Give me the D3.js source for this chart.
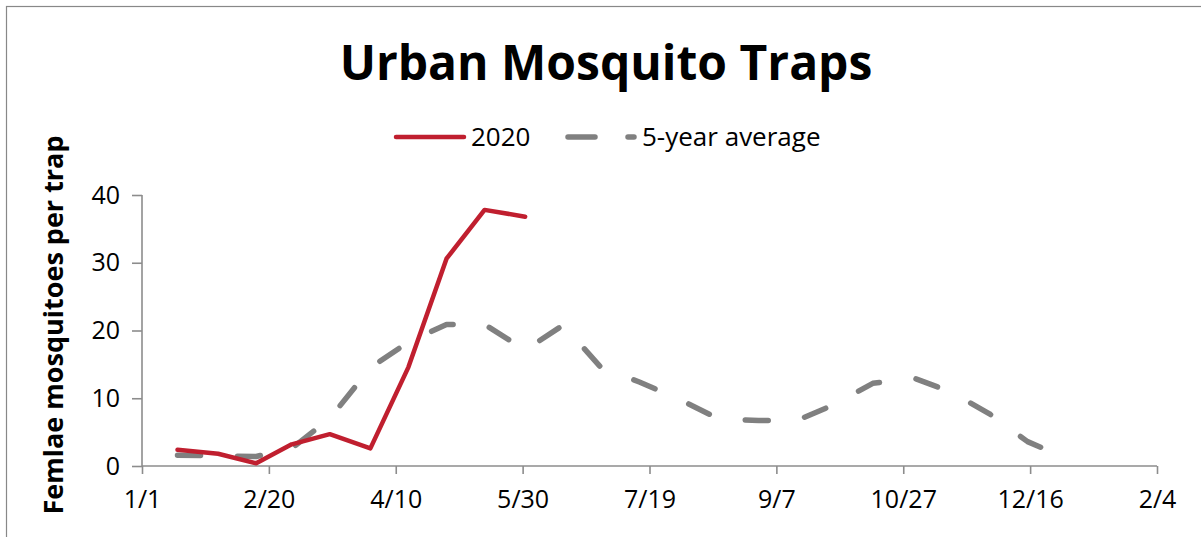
<!DOCTYPE html>
<html lang="en">
<head>
    <meta charset="UTF-8">
    <title>Urban Mosquito Traps</title>
    <style>
        body {
            margin: 0;
            background: #fff;
        }
        svg {
            display: block;
            font-family: 'Open Sans', sans-serif;
        }
    </style>
</head>
<body>
    <div id="chart"></div>

    <script src="https://d3js.org/d3.v7.min.js"></script>
    <script>
        // semi-monthly trap counts
        const dates2020 = ['2020-01-15', '2020-01-31', '2020-02-15', '2020-02-29', '2020-03-15',
            '2020-03-31', '2020-04-15', '2020-04-30', '2020-05-15', '2020-05-31']
        const values2020 = [2.4, 1.8, 0.4, 3.2, 4.7, 2.6, 14.6, 30.6, 37.8, 36.8]

        const datesAvg = ['2020-01-15', '2020-01-31', '2020-02-15', '2020-02-29', '2020-03-15',
            '2020-03-31', '2020-04-15', '2020-04-30', '2020-05-15', '2020-05-31',
            '2020-06-15', '2020-06-30', '2020-07-15', '2020-07-31', '2020-08-15',
            '2020-08-31', '2020-09-15', '2020-09-30', '2020-10-15', '2020-10-31',
            '2020-11-15', '2020-11-30', '2020-12-15', '2020-12-31']
        const valuesAvg = [1.6, 1.5, 1.4, 2.6, 7.0, 14.5, 18.3, 20.9, 20.9, 17.1,
            20.8, 14.5, 12.4, 9.8, 7.0, 6.7, 6.7, 9.1, 12.2, 13.0,
            10.9, 7.7, 3.6, 1.0]

        const xTicks = ['2020-01-01', '2020-02-20', '2020-04-10', '2020-05-30', '2020-07-19',
            '2020-09-07', '2020-10-27', '2020-12-16', '2021-02-04']
        const yTicks = [0, 10, 20, 30, 40]

        const seriesNames = ['2020', '5-year average']

        const width = 1201
        const height = 537
        const red = '#c01f2f'
        const grey = '#808080'
        const axisColor = '#8c8c8c'
        const fontColor = '#000'

        const parse = d3.timeParse('%Y-%m-%d')

        const x = d3.scaleTime()
            .domain([parse(xTicks[0]), parse(xTicks[xTicks.length - 1])])
            .range([142, 1157])

        const y = d3.scaleLinear()
            .domain([0, 40])
            .range([466, 195])

        const svg = d3.select('#chart')
            .append('svg')
            .attr('width', width)
            .attr('height', height)

        // chart border
        svg.append('rect')
            .attr('x', 6.5)
            .attr('y', 6.5)
            .attr('width', width)
            .attr('height', height)
            .attr('fill', 'none')
            .attr('stroke', '#888')
            .attr('stroke-width', 1.2)

        svg.append('text')
            .text('Urban Mosquito Traps')
            .attr('x', 606)
            .attr('y', 80)
            .attr('text-anchor', 'middle')
            .attr('font-weight', 700)
            .attr('font-size', 48)
            .attr('fill', fontColor)

        // axes
        const xAxis = d3.axisBottom(x)
            .tickValues(xTicks.map(parse))
            .tickFormat(d3.timeFormat('%-m/%-d'))
            .tickSize(8)
            .tickPadding(16)

        const yAxis = d3.axisLeft(y)
            .tickValues(yTicks)
            .tickSize(10)
            .tickPadding(12)

        const gx = svg.append('g')
            .attr('transform', `translate(0, ${y(0)})`)
            .call(xAxis)
        const gy = svg.append('g')
            .attr('transform', `translate(${x(parse(xTicks[0]))}, 0)`)
            .call(yAxis)

        for (const g of [gx, gy]) {
            g.select('.domain').attr('stroke', axisColor).attr('stroke-width', 1.6)
            g.selectAll('.tick line').attr('stroke', axisColor).attr('stroke-width', 1.6)
            g.selectAll('.tick text')
                .attr('fill', fontColor)
                .style('font-size', '25px')
                .style('font-family', "'Open Sans', sans-serif")
        }
        // excel style: plain domain without outer ticks
        gy.select('.domain').attr('d', `M0,${y(40)}V${y(0)}`)
        gx.select('.domain').attr('d', `M${x.range()[0]},0H${x.range()[1]}`)

        svg.append('text')
            .text('Femlae mosquitoes per trap')
            .attr('transform', `translate(63, 325) rotate(-90)`)
            .attr('text-anchor', 'middle')
            .attr('font-weight', 700)
            .attr('font-size', 27)
            .attr('fill', fontColor)

        // lines
        const line = d3.line()
            .x(d => x(d.date))
            .y(d => y(d.value))

        const dataAvg = datesAvg.map((d, i) => ({ date: parse(d), value: valuesAvg[i] }))
        const data2020 = dates2020.map((d, i) => ({ date: parse(d), value: values2020[i] }))

        svg.append('path')
            .datum(dataAvg)
            .attr('d', line)
            .attr('fill', 'none')
            .attr('stroke', grey)
            .attr('stroke-width', 5.5)
            .attr('stroke-linecap', 'round')
            .attr('stroke-linejoin', 'round')
            .attr('stroke-dasharray', '23,37')

        svg.append('path')
            .datum(data2020)
            .attr('d', line)
            .attr('fill', 'none')
            .attr('stroke', red)
            .attr('stroke-width', 4.5)
            .attr('stroke-linecap', 'round')
            .attr('stroke-linejoin', 'round')

        // legend
        const legend = svg.append('g')
        legend.append('line')
            .attr('x1', 396).attr('x2', 464)
            .attr('y1', 137).attr('y2', 137)
            .attr('stroke', red)
            .attr('stroke-width', 4.5)
            .attr('stroke-linecap', 'round')
        legend.append('text')
            .text(seriesNames[0])
            .attr('x', 471)
            .attr('y', 146)
            .attr('font-size', 26)
            .attr('fill', fontColor)
        legend.append('line')
            .attr('x1', 568).attr('x2', 634)
            .attr('y1', 137).attr('y2', 137)
            .attr('stroke', grey)
            .attr('stroke-width', 5.5)
            .attr('stroke-linecap', 'round')
            .attr('stroke-dasharray', '27,33')
        legend.append('text')
            .text(seriesNames[1])
            .attr('x', 642)
            .attr('y', 146)
            .attr('font-size', 26)
            .attr('fill', fontColor)
    </script>
</body>
</html>
